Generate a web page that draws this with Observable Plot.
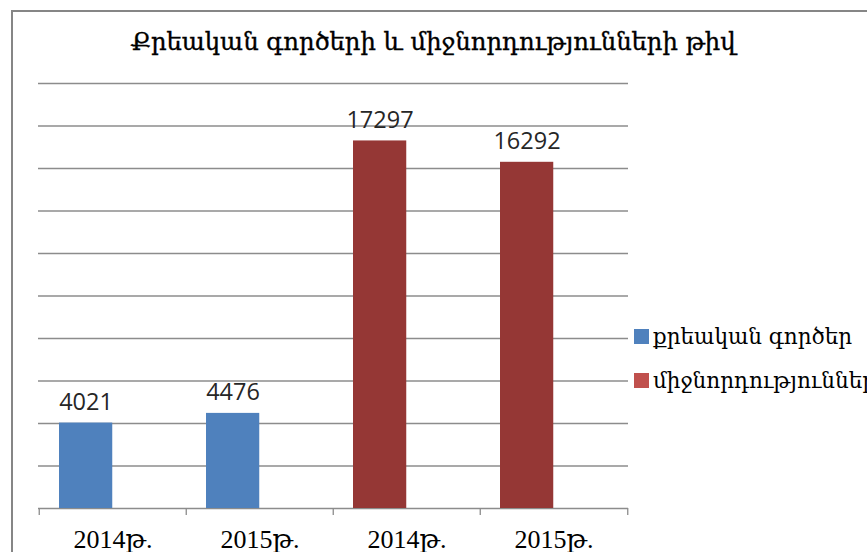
<!DOCTYPE html>
<html>
<head>
<meta charset="utf-8">
<script src="https://cdn.jsdelivr.net/npm/d3@7"></script>
<script src="https://cdn.jsdelivr.net/npm/@observablehq/plot@0.6"></script>
<style>
  html, body { margin: 0; padding: 0; background: #fff; }
  #page { position: relative; width: 867px; height: 552px; overflow: hidden; background: #fff; }
  #frame { position: absolute; left: 11px; top: 10px; width: 1000px; height: 1000px; border: 2px solid #868686; box-sizing: border-box; }
  #title { position: absolute; left: 0; top: 22px; width: 866px; text-align: center; font-family: "DejaVu Serif", serif; font-size: 24.3px; line-height: 40px; color: #000; white-space: nowrap; -webkit-text-stroke: 0.35px #000; }
  #chart { position: absolute; left: 0; top: 0; }
  #legend { position: absolute; left: 634px; top: 314px; font-family: "DejaVu Serif", serif; font-size: 21.5px; color: #000; white-space: nowrap; }
  .item { display: flex; align-items: center; height: 44px; }
  .sw { width: 15px; height: 15px; margin-right: 4px; flex: none; }
</style>
</head>
<body>
<div id="page">
  <div id="frame"></div>
  <div id="chart"></div>
  <div id="title"></div>
  <div id="legend"></div>
</div>
<script>
const titleText = "Քրեական գործերի և միջնորդությունների թիվ";
const categoryKeys = ["c1", "c2", "c3", "c4"];
const categoryLabels = ["2014թ.", "2015թ.", "2014թ.", "2015թ."];
const seriesOf = ["քրեական գործեր", "քրեական գործեր", "միջնորդություններ", "միջնորդություններ"];
const values = [4021, 4476, 17297, 16292];
const seriesNames = ["քրեական գործեր", "միջնորդություններ"];
const barColors = ["#4F81BD", "#953735"];
const legendColors = ["#4F81BD", "#C0504D"];
const gridTicks = [0, 2000, 4000, 6000, 8000, 10000, 12000, 14000, 16000, 18000, 20000];

const data = categoryKeys.map((k, i) => ({key: k, label: categoryLabels[i], series: seriesOf[i], value: values[i]}));

document.getElementById("title").textContent = titleText;

const half = 590 / 4 / 2;
const lineColor = "#8c8c8c";

const chart = Plot.plot({
  width: 867,
  height: 552,
  marginTop: 83,
  marginBottom: 44,
  marginLeft: 38,
  marginRight: 239,
  x: {type: "band", domain: categoryKeys, padding: 0, axis: null},
  y: {domain: [0, 20000], axis: null},
  color: {domain: seriesNames, range: barColors},
  marks: [
    Plot.ruleY(gridTicks, {stroke: lineColor, strokeWidth: 1.3}),
    Plot.barY(data, {x: "key", y: "value", fill: "series", insetLeft: 20, insetRight: half}),
    Plot.text(data, {x: "key", y: "value", text: d => String(d.value), dx: -27, dy: -13, lineAnchor: "bottom", fontSize: 23.5, fontFamily: "Open Sans", fill: "#262626"}),
    Plot.ruleX(categoryKeys, {x: d => d, y1: () => 0, y2: () => 0, dx: -half, insetBottom: -7, stroke: lineColor, strokeWidth: 1.3}),
    Plot.ruleX([categoryKeys[categoryKeys.length - 1]], {x: d => d, y1: () => 0, y2: () => 0, dx: half, insetBottom: -7, stroke: lineColor, strokeWidth: 1.3}),
    Plot.text(data, {x: "key", y: () => 0, text: "label", dy: 39, lineAnchor: "bottom", fontSize: 26, fontFamily: "Liberation Serif, DejaVu Serif, serif", fill: "#000"})
  ]
});
document.getElementById("chart").appendChild(chart);

const legend = document.getElementById("legend");
seriesNames.forEach((s, i) => {
  const row = document.createElement("div");
  row.className = "item";
  const sw = document.createElement("div");
  sw.className = "sw";
  sw.style.background = legendColors[i];
  const t = document.createElement("span");
  t.textContent = s;
  row.appendChild(sw);
  row.appendChild(t);
  legend.appendChild(row);
});
</script>
</body>
</html>
